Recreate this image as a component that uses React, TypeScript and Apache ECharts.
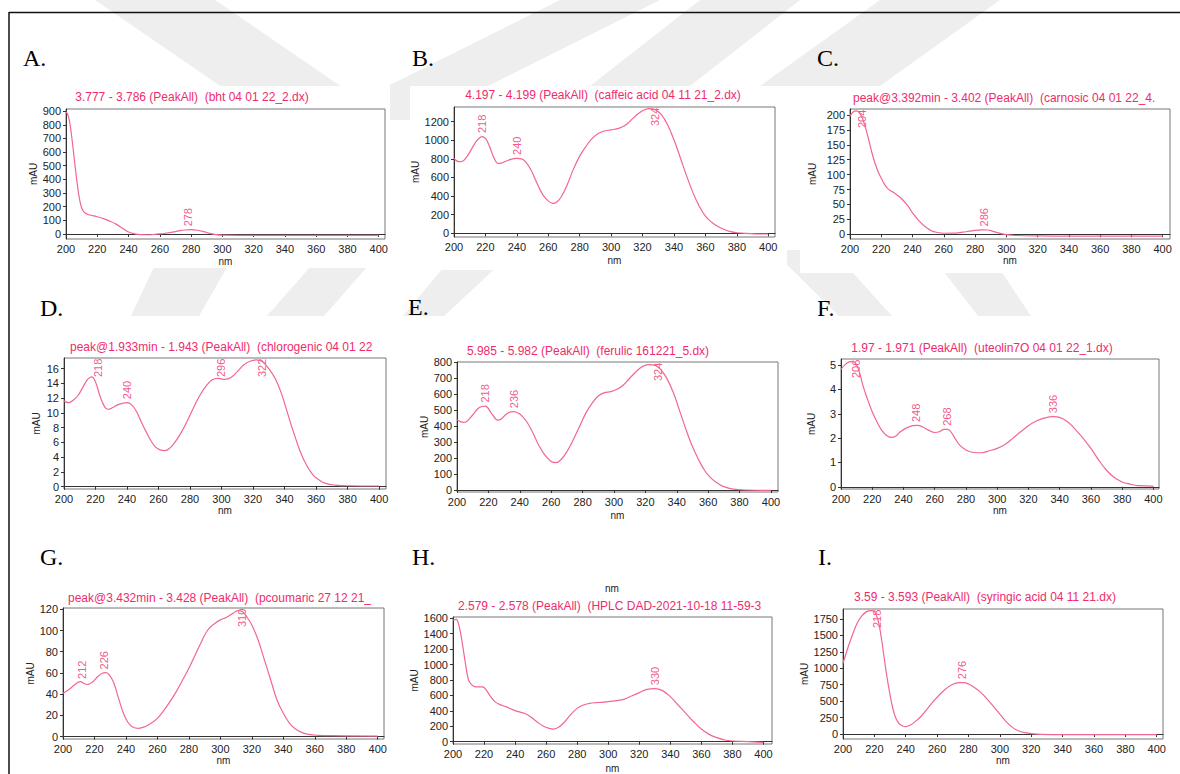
import React, { useEffect, useRef } from "react";
import * as echarts from "echarts";

// ---------- data ----------
const xTicks = [200, 220, 240, 260, 280, 300, 320, 340, 360, 380, 400];

const letters = ["A.", "B.", "C.", "D.", "E.", "F.", "G.", "H.", "I."];
const titles = [
  "3.777 - 3.786 (PeakAll)  (bht 04 01 22_2.dx)",
  "4.197 - 4.199 (PeakAll)  (caffeic acid 04 11 21_2.dx)",
  "peak@3.392min - 3.402 (PeakAll)  (carnosic 04 01 22_4.",
  "peak@1.933min - 1.943 (PeakAll)  (chlorogenic 04 01 22",
  "5.985 - 5.982 (PeakAll)  (ferulic 161221_5.dx)",
  "1.97 - 1.971 (PeakAll)  (uteolin7O 04 01 22_1.dx)",
  "peak@3.432min - 3.428 (PeakAll)  (pcoumaric 27 12 21_",
  "2.579 - 2.578 (PeakAll)  (HPLC DAD-2021-10-18 11-59-3",
  "3.59 - 3.593 (PeakAll)  (syringic acid 04 11 21.dx)",
];

// A. bht
const nmA = [200, 201, 202, 203, 204, 205, 206, 207, 208, 209, 210, 211, 212, 214, 216, 218, 220, 224, 228, 232, 236, 240, 244, 248, 252, 256, 260, 264, 268, 272, 276, 280, 284, 288, 292, 296, 300, 310, 320, 340, 360, 380, 400];
const mauA = [895, 880, 840, 770, 680, 580, 480, 385, 300, 235, 192, 168, 155, 143, 137, 132, 126, 112, 94, 72, 42, 14, 0, -5, -6, -4, 0, 6, 13, 22, 29, 31, 27, 17, 4, -5, -9, -10, -10, -10, -10, -10, -10];
const peaksA = [278];
const yTicksA = [0, 100, 200, 300, 400, 500, 600, 700, 800, 900];

// B. caffeic acid
const nmB = [200, 203, 205, 208, 211, 214, 217, 218, 220, 222, 224, 226, 228, 230, 233, 236, 240, 243, 246, 249, 252, 255, 258, 261, 263, 265, 268, 272, 276, 280, 284, 288, 292, 296, 300, 304, 308, 312, 316, 320, 324, 328, 332, 336, 340, 344, 348, 352, 356, 360, 364, 368, 372, 376, 380, 386, 392, 400];
const mauB = [806, 770, 772, 820, 900, 985, 1035, 1040, 1020, 960, 870, 790, 752, 755, 775, 795, 805, 800, 760, 680, 570, 460, 380, 335, 322, 330, 385, 520, 690, 830, 935, 1020, 1075, 1100, 1112, 1125, 1150, 1205, 1270, 1318, 1340, 1330, 1275, 1165, 1005, 815, 620, 440, 295, 185, 118, 72, 40, 18, 6, -2, -6, -8];
const peaksB = [218, 240, 324];
const yTicksB = [0, 200, 400, 600, 800, 1000, 1200];

// C. carnosic
const nmC = [200, 202, 204, 206, 208, 210, 212, 214, 216, 218, 220, 222, 224, 226, 228, 230, 232, 234, 236, 238, 240, 244, 248, 252, 256, 260, 266, 272, 278, 284, 288, 292, 296, 300, 306, 320, 340, 360, 380, 400];
const mauC = [198, 205, 207, 204, 194, 178, 158, 137, 119, 105, 94, 84, 77, 73, 70, 66, 62, 57, 51, 44, 36, 23, 13, 6, 3, 1.7, 1.8, 3.5, 5.8, 7.5, 7.2, 4.5, 1.5, -0.5, -2, -2.8, -3, -3, -3, -3];
const peaksC = [204, 286];
const yTicksC = [0, 25, 50, 75, 100, 125, 150, 175, 200];

// D. chlorogenic
const nmD = [200, 203, 206, 209, 212, 215, 217.5, 220, 223, 226, 228, 231, 234, 237, 240, 243, 246, 249, 252, 255, 258, 261, 264, 267, 270, 274, 278, 282, 286, 290, 294, 298, 302, 306, 310, 314, 318, 322, 326, 330, 334, 338, 342, 346, 350, 354, 358, 362, 366, 372, 380, 400];
const mauD = [11.6, 11.4, 11.75, 12.4, 13.5, 14.55, 14.9, 14.2, 12.2, 10.75, 10.5, 10.75, 11.1, 11.3, 11.4, 11.1, 10.2, 8.8, 7.5, 6.3, 5.4, 5.0, 4.9, 5.2, 5.9, 7.2, 8.8, 10.6, 12.3, 13.6, 14.5, 14.7, 14.55, 14.8, 15.6, 16.5, 17.0, 17.2, 16.95, 16.0, 14.7, 12.65, 9.9, 7.2, 4.75, 2.9, 1.6, 0.9, 0.45, 0.22, 0.13, 0.1];
const peaksD = [218, 240, 296, 322];
const yTicksD = [0, 2, 4, 6, 8, 10, 12, 14, 16];

// E. ferulic
const nmE = [200, 204, 206, 210, 214, 218, 222, 226, 228, 232, 236, 240, 244, 248, 252, 256, 260, 263, 266, 270, 274, 278, 282, 286, 290, 294, 298, 302, 306, 310, 314, 318, 322, 326, 330, 334, 338, 342, 346, 350, 354, 358, 362, 366, 370, 376, 384, 400];
const mauE = [438, 424, 428, 470, 516, 526, 480, 438, 443, 480, 491, 476, 434, 365, 282, 219, 178, 171, 188, 240, 313, 397, 480, 543, 589, 610, 616, 631, 658, 700, 741, 773, 785, 783, 752, 693, 606, 491, 376, 272, 188, 119, 73, 42, 21, 6, 0, -2];
const peaksE = [218, 236, 324];
const yTicksE = [0, 100, 200, 300, 400, 500, 600, 700, 800];

// F. luteolin-7-O
const nmF = [200, 203, 206, 208, 210, 212, 214, 216, 218, 220, 223, 226, 229, 232, 235, 238, 242, 246, 249, 252, 256, 260, 263, 266, 268, 270, 273, 276, 280, 285, 290, 295, 300, 305, 310, 315, 320, 325, 330, 336, 340, 345, 350, 355, 360, 365, 370, 375, 380, 385, 390, 400];
const mauF = [4.82, 5.04, 5.14, 5.14, 5.0, 4.66, 4.18, 3.77, 3.42, 3.08, 2.67, 2.33, 2.12, 2.03, 2.08, 2.26, 2.42, 2.51, 2.52, 2.47, 2.33, 2.23, 2.26, 2.36, 2.36, 2.29, 1.99, 1.71, 1.51, 1.41, 1.4, 1.48, 1.58, 1.74, 1.99, 2.26, 2.51, 2.7, 2.82, 2.88, 2.85, 2.67, 2.36, 1.99, 1.58, 1.1, 0.68, 0.38, 0.2, 0.11, 0.05, 0.03];
const peaksF = [206, 248, 268, 336];
const yTicksF = [0, 1, 2, 3, 4, 5];

// G. p-coumaric
const nmG = [200, 204, 208, 211, 214, 216, 219, 222, 225, 227, 229, 232, 235, 238, 241, 244, 248, 252, 256, 260, 264, 268, 272, 276, 280, 284, 288, 292, 296, 300, 304, 308, 311, 314, 317, 320, 324, 328, 332, 336, 340, 344, 348, 352, 356, 362, 370, 400];
const mauG = [40.8, 44.6, 49.6, 51.8, 49.6, 49.3, 51.8, 56.5, 59.7, 60.3, 59, 51.8, 37.7, 23.6, 14.1, 9.4, 7.9, 9.4, 12.6, 17.3, 24.5, 33, 42.4, 53.4, 64.4, 77, 89.5, 100.5, 106.2, 110, 112.5, 116.2, 118.7, 117.8, 112.5, 105.2, 91.1, 72.3, 53.4, 34.6, 22, 12.6, 6.9, 3.8, 2.2, 1.3, 0.9, 0.6];
const peaksG = [212, 226, 310];
const yTicksG = [0, 20, 40, 60, 80, 100, 120];

// H. HPLC DAD
const nmH = [200, 202, 204, 206, 208, 210, 212, 214, 216, 219, 221, 224, 227, 230, 234, 238, 242, 246, 250, 254, 258, 262, 265, 268, 272, 276, 280, 284, 288, 292, 296, 300, 305, 310, 315, 320, 325, 330, 335, 340, 345, 350, 355, 360, 365, 370, 375, 380, 390, 400];
const mauH = [1578, 1587, 1492, 1276, 1016, 800, 740, 715, 712, 712, 683, 592, 519, 484, 454, 419, 389, 368, 324, 259, 203, 173, 164, 186, 259, 355, 432, 476, 497, 506, 510, 519, 532, 549, 592, 636, 679, 688, 662, 584, 476, 368, 259, 164, 95, 52, 22, 9, 0, -9];
const peaksH = [330];
const yTicksH = [0, 200, 400, 600, 800, 1000, 1200, 1400, 1600];

// I. syringic acid
const nmI = [200, 203, 206, 209, 212, 215, 218, 220, 222, 224, 226, 228, 230, 232, 234, 236, 238, 240, 243, 246, 250, 254, 258, 262, 266, 270, 274, 277, 280, 284, 288, 292, 296, 300, 304, 308, 312, 316, 320, 326, 340, 400];
const mauI = [1076, 1304, 1507, 1684, 1796, 1862, 1877, 1862, 1761, 1532, 1202, 873, 594, 365, 223, 152, 122, 112, 137, 188, 274, 391, 507, 609, 695, 756, 781, 781, 761, 705, 629, 528, 416, 304, 188, 101, 46, 20, 5, -5, -10, -10];
const peaksI = [218, 276];
const yTicksI = [0, 250, 500, 750, 1000, 1250, 1500, 1750];

// ---------- layout (positions/styles only) ----------
type Panel = {
  nm: number[]; mau: number[]; peaks: number[]; yTicks: number[];
  grid: number[]; xMax: number; yMin: number; yMax: number;
  title: { x: number; y: number; align: string };
  letter: number[]; yNameGap: number; xNameGap: number; bg: number[];
};

const PANELS: Panel[] = [
  { nm: nmA, mau: mauA, peaks: peaksA, yTicks: yTicksA, grid: [66, 109, 319, 130], xMax: 404, yMin: -37, yMax: 916, title: { x: 192, y: 97, align: "center" }, letter: [23, 58], yNameGap: 25, xNameGap: 17, bg: [28, 86, 362, 182] },
  { nm: nmB, mau: mauB, peaks: peaksB, yTicks: yTicksB, grid: [454, 107, 321, 130], xMax: 404.3, yMin: -40, yMax: 1358, title: { x: 603, y: 95, align: "center" }, letter: [412, 58], yNameGap: 25, xNameGap: 18.5, bg: [410, 86, 377, 184] },
  { nm: nmC, mau: mauC, peaks: peaksC, yTicks: yTicksC, grid: [850, 109, 320, 130], xMax: 404.7, yMin: -7.9, yMax: 210, title: { x: 853, y: 98, align: "left" }, letter: [817, 58], yNameGap: 33, xNameGap: 16.5, bg: [800, 86, 380, 187] },
  { nm: nmD, mau: mauD, peaks: peaksD, yTicks: yTicksD, grid: [64, 358, 322, 131], xMax: 404.4, yMin: -0.31, yMax: 17.45, title: { x: 70, y: 347, align: "left" }, letter: [40, 308], yNameGap: 23, xNameGap: 16.5, bg: [28, 333, 362, 190] },
  { nm: nmE, mau: mauE, peaks: peaksE, yTicks: yTicksE, grid: [457, 362, 321, 130], xMax: 404.5, yMin: -12.5, yMax: 802, title: { x: 588, y: 351, align: "center" }, letter: [408, 307], yNameGap: 24, xNameGap: 18.5, bg: [410, 333, 377, 190] },
  { nm: nmF, mau: mauF, peaks: peaksF, yTicks: yTicksF, grid: [841, 359, 318, 130], xMax: 403.6, yMin: -0.09, yMax: 5.25, title: { x: 982, y: 348, align: "center" }, letter: [817, 308], yNameGap: 25, xNameGap: 16.5, bg: [800, 333, 380, 190] },
  { nm: nmG, mau: mauG, peaks: peaksG, yTicks: yTicksG, grid: [63, 608, 321, 131], xMax: 404, yMin: -2.2, yMax: 121.2, title: { x: 68, y: 598, align: "left" }, letter: [40, 557], yNameGap: 23, xNameGap: 16.5, bg: [28, 583, 362, 182] },
  { nm: nmH, mau: mauH, peaks: peaksH, yTicks: yTicksH, grid: [453, 617, 319, 127], xMax: 405.5, yMin: -30, yMax: 1617, title: { x: 458, y: 606, align: "left" }, letter: [412, 557], yNameGap: 24, xNameGap: 19, bg: [410, 575, 377, 199] },
  { nm: nmI, mau: mauI, peaks: peaksI, yTicks: yTicksI, grid: [843, 609, 320, 130], xMax: 404, yMin: -76, yMax: 1902, title: { x: 985, y: 597, align: "center" }, letter: [818, 557], yNameGap: 24, xNameGap: 16, bg: [800, 583, 380, 191] },
];

const PINK_LINE = "#f3668f";
const PINK_TEXT = "#ee2c6c";
const SANS = "'Liberation Sans', Arial, sans-serif";
const SERIF = "'Liberation Serif', 'Times New Roman', serif";
const WM = "#eeeeee";

const WATERMARK: number[][][] = [
  [[95, 0], [215, 0], [390, 120], [270, 120]],
  [[560, 0], [660, 0], [420, 120], [320, 120]],
  [[700, 0], [800, 0], [690, 86], [590, 86]],
  [[880, 0], [1000, 0], [880, 86], [760, 86]],
  [[162, 250], [237, 250], [199, 316], [131, 316]],
  [[325, 250], [382, 250], [324, 316], [267, 316]],
  [[458, 250], [515, 250], [444, 316], [403, 316]],
  [[772, 250], [832, 250], [892, 316], [839, 316]],
  [[927, 250], [987, 250], [1031, 316], [978, 316]],
];

function interp(xs: number[], ys: number[], x: number) {
  for (let i = 0; i < xs.length - 1; i++) {
    if (x >= xs[i] && x <= xs[i + 1]) {
      const t = (x - xs[i]) / (xs[i + 1] - xs[i]);
      return ys[i] + t * (ys[i + 1] - ys[i]);
    }
  }
  return ys[ys.length - 1];
}

function buildOption() {
  const grid: any[] = [];
  const xAxis: any[] = [];
  const yAxis: any[] = [];
  const series: any[] = [];
  const graphic: any[] = [];

  WATERMARK.forEach((pts) => {
    graphic.push({ type: "polygon", z: -30, silent: true, shape: { points: pts }, style: { fill: WM } });
  });

  PANELS.forEach((p, i) => {
    const [l, t, w, h] = p.grid;
    graphic.push({ type: "rect", z: -20, silent: true, shape: { x: p.bg[0], y: p.bg[1], width: p.bg[2], height: p.bg[3] }, style: { fill: "#ffffff" } });
    graphic.push({ type: "text", z: 50, x: p.letter[0], y: p.letter[1], style: { text: letters[i], font: `24px ${SERIF}`, fill: "#000", verticalAlign: "middle" } });
    graphic.push({ type: "text", z: 50, x: p.title.x, y: p.title.y, style: { text: titles[i], font: `12px ${SANS}`, fill: PINK_TEXT, align: p.title.align, verticalAlign: "middle" } });

    grid.push({ left: l, top: t, width: w, height: h, show: true, borderColor: "#777", borderWidth: 1, backgroundColor: "#fff" });
    xAxis.push({
      type: "value", gridIndex: i, min: 200, max: p.xMax,
      axisLine: { show: true, lineStyle: { color: "#333", width: 1 } },
      axisTick: { show: true, length: 3, customValues: xTicks, lineStyle: { color: "#333" } },
      axisLabel: { customValues: xTicks, fontSize: 11, color: "#222", margin: 4, fontFamily: SANS, formatter: (v: number) => String(v) },
      splitLine: { show: false },
      name: "nm", nameLocation: "middle", nameGap: p.xNameGap,
      nameTextStyle: { fontSize: 10, color: "#222", fontFamily: SANS },
    });
    yAxis.push({
      type: "value", gridIndex: i, min: p.yMin, max: p.yMax,
      axisLine: { show: true, lineStyle: { color: "#333", width: 1 } },
      axisTick: { show: true, length: 3, customValues: p.yTicks, lineStyle: { color: "#333" } },
      axisLabel: { customValues: p.yTicks, fontSize: 11, color: "#222", margin: 5, fontFamily: SANS, formatter: (v: number) => String(v) },
      splitLine: { show: false },
      name: "mAU", nameLocation: "middle", nameGap: p.yNameGap, nameRotate: 90,
      nameTextStyle: { fontSize: 10, color: "#222", fontFamily: SANS },
    });
    series.push({
      type: "line", xAxisIndex: i, yAxisIndex: i, showSymbol: false, smooth: 0.4,
      data: p.nm.map((x, k) => [x, p.mau[k]]),
      lineStyle: { color: PINK_LINE, width: 1.2 }, silent: true,
    });

    const ppu = h / (p.yMax - p.yMin);
    const ppn = w / (p.xMax - 200);
    const textLen = 18.5;
    const labels = p.peaks.map((pk) => {
      const v = interp(p.nm, p.mau, pk);
      let y = v + 3.5 / ppu;
      let x = pk;
      if (y + textLen / ppu > p.yMax) {
        y = p.yMax - (textLen + 0.5) / ppu;
        x = pk + 6 / ppn;
      }
      return [x, y, String(pk)];
    });
    series.push({
      type: "scatter", xAxisIndex: i, yAxisIndex: i, symbolSize: 1, silent: true,
      itemStyle: { color: "rgba(0,0,0,0)" },
      data: labels,
      label: {
        show: true, position: "inside", rotate: 90, align: "left", verticalAlign: "middle",
        formatter: (q: any) => q.value[2], color: PINK_TEXT, fontSize: 11, fontFamily: SANS,
      },
    });
  });

  // extra stray "nm" in panel H
  graphic.push({ type: "text", z: 50, x: 612, y: 588, style: { text: "nm", font: `10px ${SANS}`, fill: "#222", align: "center", verticalAlign: "middle" } });
  // clip bottom of panel G
  graphic.push({ type: "rect", z: 60, silent: true, shape: { x: 28, y: 765, width: 362, height: 10 }, style: { fill: "#ffffff" } });
  // frame
  graphic.push({ type: "line", z: 70, shape: { x1: 9, y1: 12.5, x2: 1180, y2: 12.5 }, style: { stroke: "#111", lineWidth: 1.5 } });
  graphic.push({ type: "line", z: 70, shape: { x1: 9, y1: 12, x2: 9, y2: 774 }, style: { stroke: "#111", lineWidth: 1.5 } });

  return { animation: false, backgroundColor: "#ffffff", grid, xAxis, yAxis, series, graphic };
}

export default function App() {
  const ref = useRef<HTMLDivElement>(null);
  useEffect(() => {
    document.body.style.margin = "0";
    if (!ref.current) return;
    const chart = echarts.init(ref.current, undefined, { renderer: "svg" });
    chart.setOption(buildOption() as any);
    return () => chart.dispose();
  }, []);
  return <div ref={ref} style={{ width: 1180, height: 774 }} />;
}
